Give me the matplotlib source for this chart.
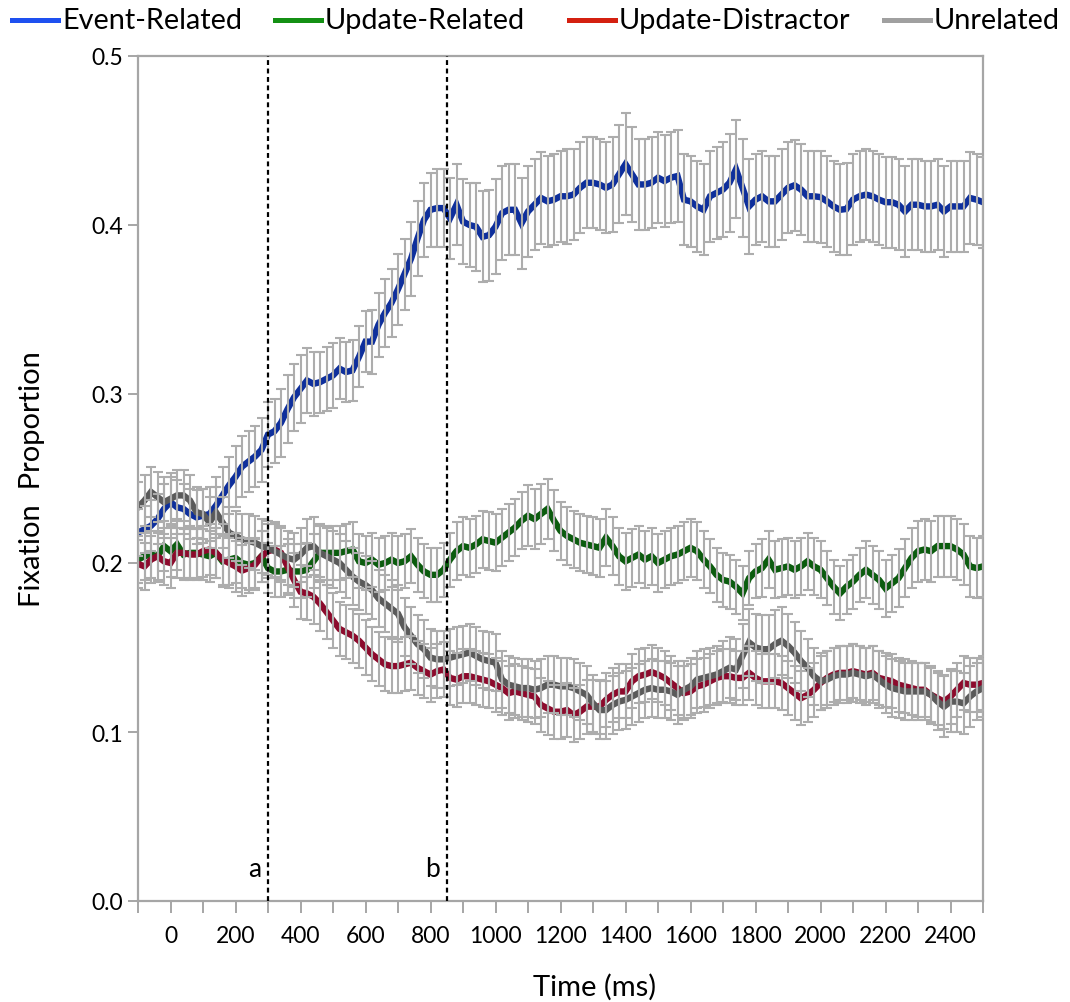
import numpy as np
import matplotlib
matplotlib.use("Agg")
import matplotlib.pyplot as plt
from matplotlib.lines import Line2D

# time axis in ms, one sample every 20 ms
time_ms = np.arange(-100, 2501, 20)

event_related = [
    0.218, 0.220, 0.222, 0.226, 0.232, 0.236, 0.233, 0.232, 0.229, 0.227,
    0.228, 0.229, 0.234, 0.240, 0.246, 0.251, 0.257, 0.260, 0.263, 0.267,
    0.276, 0.278, 0.283, 0.291, 0.298, 0.303, 0.308, 0.306, 0.307, 0.309,
    0.311, 0.315, 0.313, 0.314, 0.322, 0.331, 0.331, 0.341, 0.348, 0.354,
    0.362, 0.371, 0.380, 0.392, 0.403, 0.409, 0.410, 0.410, 0.404, 0.412,
    0.402, 0.400, 0.399, 0.393, 0.394, 0.399, 0.407, 0.409, 0.409, 0.401,
    0.408, 0.412, 0.416, 0.414, 0.415, 0.417, 0.417, 0.418, 0.422, 0.425,
    0.425, 0.424, 0.422, 0.424, 0.430, 0.436, 0.430, 0.424, 0.424, 0.425,
    0.428, 0.426, 0.428, 0.429, 0.415, 0.414, 0.411, 0.409, 0.417, 0.419,
    0.421, 0.425, 0.433, 0.422, 0.411, 0.415, 0.417, 0.414, 0.414, 0.418,
    0.422, 0.4235, 0.421, 0.417, 0.417, 0.4165, 0.414, 0.411, 0.409, 0.4095,
    0.415, 0.417, 0.418, 0.417, 0.415, 0.4135, 0.4135, 0.412, 0.408, 0.412,
    0.412, 0.411, 0.411, 0.412, 0.408, 0.411, 0.411, 0.411, 0.416, 0.415,
    0.4135,
]
event_err = [
    0.014, 0.014, 0.015, 0.015, 0.015, 0.015, 0.016, 0.015, 0.015, 0.016,
    0.016, 0.016, 0.017, 0.017, 0.017, 0.018, 0.018, 0.018, 0.018, 0.019,
    0.019, 0.019, 0.020, 0.020, 0.020, 0.020, 0.019, 0.019, 0.018, 0.019,
    0.019, 0.018, 0.018, 0.018, 0.018, 0.018, 0.019, 0.019, 0.020, 0.020,
    0.021, 0.021, 0.022, 0.022, 0.022, 0.022, 0.023, 0.023, 0.024, 0.024,
    0.025, 0.025, 0.026, 0.027, 0.027, 0.028, 0.028, 0.027, 0.027, 0.027,
    0.027, 0.027, 0.027, 0.027, 0.027, 0.027, 0.028, 0.027, 0.027, 0.027,
    0.027, 0.027, 0.027, 0.028, 0.029, 0.030, 0.028, 0.027, 0.027, 0.027,
    0.027, 0.027, 0.027, 0.027, 0.027, 0.027, 0.027, 0.027, 0.027, 0.027,
    0.028, 0.029, 0.029, 0.029, 0.028, 0.027, 0.027, 0.027, 0.027, 0.027,
    0.027, 0.027, 0.027, 0.027, 0.027, 0.027, 0.027, 0.027, 0.027, 0.027,
    0.027, 0.027, 0.027, 0.027, 0.027, 0.027, 0.027, 0.027, 0.027, 0.027,
    0.027, 0.027, 0.027, 0.027, 0.027, 0.027, 0.027, 0.027, 0.027, 0.027,
    0.027,
]

update_related = [
    0.202, 0.204, 0.205, 0.204, 0.210, 0.207, 0.211, 0.205, 0.206, 0.206,
    0.205, 0.204, 0.206, 0.201, 0.202, 0.203, 0.200, 0.199, 0.200, 0.204,
    0.197, 0.195, 0.195, 0.196, 0.195, 0.195, 0.196, 0.201, 0.206, 0.206,
    0.206, 0.206, 0.207, 0.208, 0.201, 0.200, 0.202, 0.199, 0.200, 0.202,
    0.200, 0.201, 0.204, 0.199, 0.195, 0.193, 0.193, 0.196, 0.202, 0.207,
    0.210, 0.209, 0.211, 0.214, 0.213, 0.212, 0.215, 0.218, 0.221, 0.225,
    0.228, 0.226, 0.229, 0.232, 0.225, 0.219, 0.216, 0.214, 0.212, 0.211,
    0.210, 0.209, 0.215, 0.210, 0.204, 0.201, 0.203, 0.205, 0.202, 0.204,
    0.200, 0.202, 0.204, 0.205, 0.207, 0.209, 0.207, 0.202, 0.198, 0.193,
    0.190, 0.189, 0.186, 0.182, 0.191, 0.195, 0.197, 0.202, 0.196, 0.197,
    0.198, 0.196, 0.198, 0.201, 0.198, 0.196, 0.191, 0.186, 0.182, 0.186,
    0.189, 0.193, 0.196, 0.193, 0.190, 0.185, 0.188, 0.191, 0.197, 0.203,
    0.207, 0.208, 0.207, 0.210, 0.210, 0.210, 0.208, 0.205, 0.198, 0.197,
    0.198,
]
update_related_err = [
    0.014, 0.014, 0.014, 0.015, 0.015, 0.015, 0.015, 0.015, 0.015, 0.015,
    0.015, 0.015, 0.015, 0.015, 0.015, 0.015, 0.015, 0.015, 0.015, 0.015,
    0.015, 0.015, 0.015, 0.015, 0.016, 0.016, 0.016, 0.016, 0.016, 0.016,
    0.016, 0.016, 0.016, 0.016, 0.016, 0.016, 0.016, 0.016, 0.016, 0.016,
    0.016, 0.016, 0.016, 0.016, 0.016, 0.016, 0.016, 0.016, 0.016, 0.017,
    0.017, 0.017, 0.017, 0.017, 0.017, 0.017, 0.017, 0.017, 0.017, 0.017,
    0.018, 0.018, 0.018, 0.018, 0.018, 0.017, 0.017, 0.017, 0.017, 0.017,
    0.017, 0.017, 0.017, 0.017, 0.017, 0.017, 0.017, 0.017, 0.017, 0.017,
    0.017, 0.017, 0.017, 0.017, 0.017, 0.017, 0.017, 0.017, 0.016, 0.016,
    0.016, 0.016, 0.016, 0.016, 0.016, 0.016, 0.017, 0.017, 0.017, 0.017,
    0.017, 0.017, 0.017, 0.017, 0.017, 0.017, 0.016, 0.016, 0.016, 0.016,
    0.016, 0.016, 0.017, 0.017, 0.017, 0.017, 0.017, 0.017, 0.017, 0.018,
    0.018, 0.018, 0.018, 0.018, 0.018, 0.018, 0.018, 0.018, 0.018, 0.018,
    0.018,
]

update_distractor = [
    0.1995, 0.198, 0.202, 0.204, 0.201, 0.200, 0.206, 0.206, 0.205, 0.205,
    0.207, 0.208, 0.206, 0.202, 0.200, 0.198, 0.1955, 0.197, 0.199, 0.204,
    0.207, 0.208, 0.206, 0.198, 0.190, 0.183, 0.182, 0.180, 0.176, 0.171,
    0.166, 0.161, 0.159, 0.157, 0.154, 0.150, 0.146, 0.143, 0.140, 0.139,
    0.139, 0.140, 0.141, 0.138, 0.136, 0.134, 0.136, 0.137, 0.132, 0.131,
    0.133, 0.133, 0.132, 0.131, 0.130, 0.128, 0.126, 0.123, 0.124, 0.123,
    0.122, 0.121, 0.116, 0.114, 0.112, 0.112, 0.113, 0.110, 0.112, 0.115,
    0.115, 0.115, 0.119, 0.122, 0.124, 0.124, 0.130, 0.133, 0.134, 0.1355,
    0.134, 0.132, 0.129, 0.126, 0.123, 0.124, 0.127, 0.128, 0.130, 0.132,
    0.133, 0.133, 0.132, 0.132, 0.135, 0.132, 0.130, 0.130, 0.130, 0.129,
    0.126, 0.123, 0.120, 0.122, 0.125, 0.129, 0.132, 0.134, 0.135, 0.135,
    0.136, 0.135, 0.134, 0.135, 0.132, 0.131, 0.130, 0.128, 0.127, 0.126,
    0.125, 0.125, 0.122, 0.120, 0.118, 0.121, 0.125, 0.129, 0.128, 0.128,
    0.129,
]
update_distractor_err = [
    0.014, 0.014, 0.014, 0.014, 0.014, 0.015, 0.015, 0.015, 0.015, 0.015,
    0.015, 0.015, 0.015, 0.015, 0.015, 0.015, 0.015, 0.015, 0.015, 0.015,
    0.016, 0.016, 0.016, 0.016, 0.016, 0.016, 0.016, 0.016, 0.016, 0.016,
    0.016, 0.016, 0.016, 0.016, 0.016, 0.016, 0.016, 0.016, 0.016, 0.016,
    0.016, 0.016, 0.016, 0.016, 0.016, 0.016, 0.016, 0.016, 0.016, 0.016,
    0.016, 0.016, 0.016, 0.016, 0.016, 0.016, 0.016, 0.016, 0.016, 0.016,
    0.016, 0.016, 0.016, 0.016, 0.016, 0.016, 0.016, 0.016, 0.016, 0.016,
    0.016, 0.016, 0.016, 0.016, 0.016, 0.016, 0.016, 0.016, 0.016, 0.016,
    0.016, 0.016, 0.016, 0.016, 0.016, 0.016, 0.016, 0.016, 0.016, 0.016,
    0.016, 0.016, 0.016, 0.016, 0.016, 0.016, 0.016, 0.016, 0.016, 0.016,
    0.016, 0.016, 0.016, 0.016, 0.016, 0.016, 0.016, 0.016, 0.016, 0.016,
    0.016, 0.016, 0.016, 0.016, 0.016, 0.016, 0.016, 0.016, 0.016, 0.016,
    0.016, 0.016, 0.016, 0.016, 0.016, 0.016, 0.016, 0.016, 0.016, 0.016,
    0.016,
]

unrelated = [
    0.233, 0.237, 0.242, 0.239, 0.236, 0.238, 0.240, 0.240, 0.237, 0.230,
    0.229, 0.224, 0.230, 0.224, 0.218, 0.216, 0.214, 0.213, 0.212, 0.210,
    0.209, 0.207, 0.205, 0.203, 0.202, 0.205, 0.209, 0.210, 0.206, 0.204,
    0.202, 0.200, 0.196, 0.192, 0.189, 0.187, 0.184, 0.179, 0.176, 0.173,
    0.170, 0.162, 0.157, 0.152, 0.149, 0.144, 0.143, 0.143, 0.144, 0.145,
    0.146, 0.147, 0.145, 0.143, 0.142, 0.141, 0.131, 0.128, 0.127, 0.126,
    0.126, 0.125, 0.126, 0.128, 0.128, 0.127, 0.127, 0.126, 0.124, 0.122,
    0.117, 0.113, 0.113, 0.116, 0.118, 0.119, 0.121, 0.123, 0.125, 0.126,
    0.125, 0.125, 0.124, 0.122, 0.125, 0.127, 0.131, 0.132, 0.133, 0.134,
    0.136, 0.138, 0.137, 0.145, 0.153, 0.150, 0.149, 0.149, 0.152, 0.154,
    0.151, 0.147, 0.142, 0.138, 0.133, 0.130, 0.131, 0.133, 0.134, 0.134,
    0.135, 0.134, 0.133, 0.134, 0.131, 0.128, 0.126, 0.125, 0.124, 0.124,
    0.124, 0.124, 0.122, 0.118, 0.115, 0.118, 0.118, 0.117, 0.121, 0.124,
    0.126,
]
unrelated_err = [
    0.015, 0.015, 0.015, 0.015, 0.015, 0.015, 0.015, 0.015, 0.015, 0.015,
    0.015, 0.015, 0.015, 0.015, 0.015, 0.015, 0.015, 0.016, 0.016, 0.016,
    0.016, 0.016, 0.016, 0.016, 0.016, 0.016, 0.017, 0.017, 0.017, 0.017,
    0.017, 0.017, 0.017, 0.017, 0.017, 0.017, 0.017, 0.017, 0.017, 0.017,
    0.017, 0.017, 0.017, 0.017, 0.017, 0.017, 0.017, 0.017, 0.017, 0.017,
    0.017, 0.017, 0.017, 0.017, 0.017, 0.017, 0.017, 0.017, 0.017, 0.017,
    0.017, 0.017, 0.017, 0.017, 0.017, 0.017, 0.017, 0.017, 0.017, 0.017,
    0.017, 0.017, 0.017, 0.017, 0.017, 0.017, 0.017, 0.017, 0.017, 0.017,
    0.017, 0.017, 0.017, 0.017, 0.017, 0.017, 0.017, 0.017, 0.017, 0.017,
    0.018, 0.018, 0.018, 0.019, 0.020, 0.020, 0.020, 0.020, 0.020, 0.020,
    0.019, 0.018, 0.018, 0.017, 0.017, 0.017, 0.017, 0.017, 0.017, 0.017,
    0.017, 0.017, 0.017, 0.017, 0.017, 0.017, 0.017, 0.017, 0.017, 0.017,
    0.017, 0.017, 0.017, 0.017, 0.018, 0.018, 0.018, 0.018, 0.018, 0.017,
    0.017,
]

series_names = ["Event-Related", "Update-Related", "Update-Distractor", "Unrelated"]
line_colors = ["#0e2f9c", "#0b5c0e", "#8c0a2c", "#5a5a5a"]
legend_colors = ["#1e50f0", "#149014", "#d42010", "#a0a0a0"]

# marker lines for the two time windows
window_marks = [300, 850]
window_labels = ["a", "b"]

plt.rcParams["font.family"] = ["Lato", "DejaVu Sans"]

AXIS_GRAY = "#a6a6a6"
W, H = 1070, 1003

fig = plt.figure(figsize=(W / 100, H / 100), dpi=100)
ax = fig.add_axes([138 / W, 1 - 902 / H, 845 / W, 845 / H])

all_means = [event_related, update_related, update_distractor, unrelated]
all_errs = [event_err, update_related_err, update_distractor_err, unrelated_err]

for mean, color in zip(all_means, line_colors):
    ax.plot(time_ms, mean, color=color, lw=4.6, zorder=2, solid_joinstyle="miter")

# grey error bars sit on top of the coloured lines
for mean, err in zip(all_means, all_errs):
    ax.errorbar(time_ms, mean, yerr=err, fmt="none", ecolor="#adadad",
                elinewidth=1.5, capsize=3.8, capthick=1.5, zorder=3)

for x, lab in zip(window_marks, window_labels):
    ax.axvline(x, color="black", lw=1.6, ls=(0, (2.2, 1.6)), zorder=4)
    ax.text(x - 22, 0.019, lab, ha="right", va="center", fontsize=19)

ax.set_xlim(-100, 2500)
ax.set_ylim(0, 0.5)
ax.set_xticks(np.arange(0, 2401, 200))
ax.set_xticks(np.arange(-100, 2501, 200), minor=True)
ax.set_yticks(np.arange(0, 0.51, 0.1))
ax.set_yticklabels([f"{v:.1f}" for v in np.arange(0, 0.51, 0.1)])

for spine in ax.spines.values():
    spine.set_color(AXIS_GRAY)
    spine.set_linewidth(1.6)
ax.tick_params(axis="both", which="both", color=AXIS_GRAY, width=1.4,
               direction="out", labelsize=16.5)
ax.tick_params(axis="x", which="both", length=8.5, pad=9)
ax.tick_params(axis="y", which="both", length=7, pad=4)

ax.set_xlabel("Time (ms)", fontsize=21, va="center")
ax.xaxis.set_label_coords(0.54, -0.1006)
ax.set_ylabel("Fixation  Proportion", fontsize=21, va="center")
ax.yaxis.set_label_coords(-0.1254, 0.5)

# legend row across the top of the figure
legend_left = [12, 275, 569, 884]
legend_y = 1 - 21 / H
for x0, color, name in zip(legend_left, legend_colors, series_names):
    fig.add_artist(Line2D([x0 / W, (x0 + 46) / W], [legend_y, legend_y],
                          transform=fig.transFigure, color=color, lw=3.6))
    fig.text((x0 + 50) / W, legend_y, name, ha="left", va="center", fontsize=20.8)

fig.savefig("out.png", dpi=100)
